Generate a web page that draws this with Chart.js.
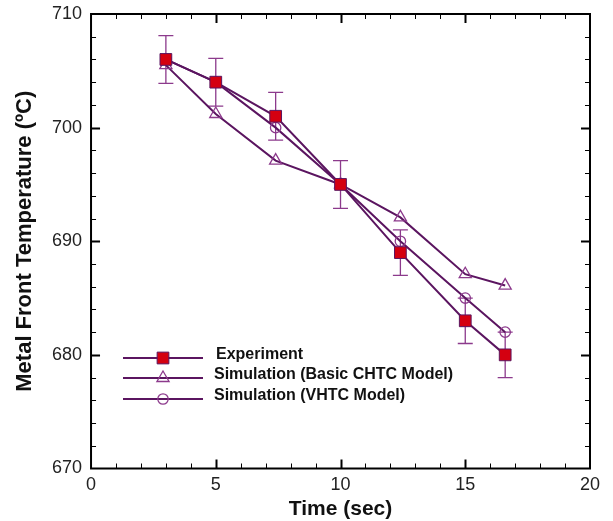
<!DOCTYPE html>
<html>
<head>
<meta charset="utf-8">
<script src="https://cdn.jsdelivr.net/npm/chart.js@4/dist/chart.umd.min.js"></script>
<style>
  html, body { margin: 0; padding: 0; background: #fff; }
  #wrap { width: 613px; height: 521px; }
</style>
</head>
<body>
<div id="wrap"><canvas id="chart" width="613" height="521"></canvas></div>
<script>
// data
const times = [3, 5, 7.4, 10, 12.4, 15, 16.6];
const experiment = [706, 704, 701, 695, 689, 683, 680];
const experimentErr = [2.1, 2.1, 2.1, 2.1, 2, 2, 2];
const basicChtc = [705.5, 701.2, 697.1, 695, 692.1, 687.1, 686.1];
const vhtc = [706, 704, 700, 695, 690, 685, 682];

const xTicks = [0, 5, 10, 15, 20];
const yTicks = [670, 680, 690, 700, 710];

const lineColor = '#5b1560';
const barColor = '#8c3a8c';
const font = "'Liberation Sans', Arial, sans-serif";

function toPoints(ys) {
    return times.map((t, i) => ({x: t, y: ys[i]}));
}

// inward ticks on all four sides + frame
const frame = {
    id: 'frame',
    afterDraw(chart) {
        const {ctx, chartArea: a, scales: {x, y}} = chart;
        ctx.save();
        ctx.strokeStyle = '#000';
        for (let v = 1; v < 20; v++) {
            const px = Math.round(x.getPixelForValue(v)) + 0.5;
            const len = v % 5 === 0 ? 9 : 5;
            ctx.lineWidth = v % 5 === 0 ? 2 : 1;
            ctx.beginPath();
            ctx.moveTo(px, a.bottom); ctx.lineTo(px, a.bottom - len);
            ctx.moveTo(px, a.top); ctx.lineTo(px, a.top + len);
            ctx.stroke();
        }
        for (let v = 672; v < 710; v += 2) {
            const py = Math.round(y.getPixelForValue(v)) + 0.5;
            const len = v % 10 === 0 ? 9 : 5;
            ctx.lineWidth = v % 10 === 0 ? 2 : 1;
            ctx.beginPath();
            ctx.moveTo(a.left, py); ctx.lineTo(a.left + len, py);
            ctx.moveTo(a.right, py); ctx.lineTo(a.right - len, py);
            ctx.stroke();
        }
        ctx.lineWidth = 2;
        ctx.strokeRect(a.left, a.top, a.right - a.left, a.bottom - a.top);
        ctx.restore();
    }
};

// error bars for experiment, under the markers
const errorBars = {
    id: 'errorBars',
    beforeDatasetsDraw(chart) {
        const {ctx, scales: {x, y}} = chart;
        ctx.save();
        ctx.strokeStyle = barColor;
        ctx.lineWidth = 1.3;
        times.forEach((t, i) => {
            const px = x.getPixelForValue(t);
            const top = y.getPixelForValue(experiment[i] + experimentErr[i]);
            const bot = y.getPixelForValue(experiment[i] - experimentErr[i]);
            ctx.beginPath();
            ctx.moveTo(px, top); ctx.lineTo(px, bot);
            ctx.moveTo(px - 7.5, top); ctx.lineTo(px + 7.5, top);
            ctx.moveTo(px - 7.5, bot); ctx.lineTo(px + 7.5, bot);
            ctx.stroke();
        });
        ctx.restore();
    }
};

// legend inside the plot
const innerLegend = {
    id: 'innerLegend',
    afterDraw(chart) {
        const {ctx} = chart;
        const rows = [358, 378, 399];
        ctx.save();
        chart.data.datasets.forEach((ds, i) => {
            const yy = rows[i];
            ctx.strokeStyle = lineColor;
            ctx.lineWidth = 2;
            ctx.beginPath();
            ctx.moveTo(123, yy); ctx.lineTo(203, yy);
            ctx.stroke();
            ctx.fillStyle = ds.pointBackgroundColor;
            ctx.strokeStyle = ds.pointBorderColor;
            ctx.lineWidth = ds.pointBorderWidth;
            Chart.helpers.drawPoint(ctx, {pointStyle: ds.pointStyle, radius: ds.pointRadius, rotation: 0, borderWidth: ds.pointBorderWidth}, 163, yy);
            ctx.fillStyle = '#111';
            ctx.font = 'bold 16px ' + font;
            ctx.textBaseline = 'middle';
            ctx.fillText(ds.label, i === 0 ? 216 : 214, yy - 3);
        });
        ctx.restore();
    }
};

new Chart(document.getElementById('chart').getContext('2d'), {
    type: 'scatter',
    data: {
        datasets: [{
            label: 'Experiment',
            data: toPoints(experiment),
            showLine: true,
            borderColor: lineColor,
            borderWidth: 2,
            pointStyle: 'rect',
            pointRadius: 8.3,
            pointBackgroundColor: '#d40010',
            pointBorderColor: lineColor,
            pointBorderWidth: 1
        }, {
            label: 'Simulation (Basic CHTC Model)',
            data: toPoints(basicChtc),
            showLine: true,
            borderColor: lineColor,
            borderWidth: 2,
            pointStyle: 'triangle',
            pointRadius: 7,
            pointBackgroundColor: 'rgba(0,0,0,0)',
            pointBorderColor: barColor,
            pointBorderWidth: 1.3
        }, {
            label: 'Simulation (VHTC Model)',
            data: toPoints(vhtc),
            showLine: true,
            borderColor: lineColor,
            borderWidth: 2,
            pointStyle: 'circle',
            pointRadius: 5.2,
            pointBackgroundColor: 'rgba(0,0,0,0)',
            pointBorderColor: barColor,
            pointBorderWidth: 1.3
        }]
    },
    options: {
        responsive: false,
        animation: false,
        layout: {padding: {top: 14, right: 23, left: 14, bottom: 1.5}},
        plugins: {legend: {display: false}, tooltip: {enabled: false}},
        scales: {
            x: {
                type: 'linear',
                min: 0, max: 20,
                afterBuildTicks: s => { s.ticks = xTicks.map(v => ({value: v})); },
                grid: {display: false, drawTicks: false, tickLength: 0},
                border: {display: false},
                ticks: {color: '#222', font: {family: font, size: 18, lineHeight: 1}, padding: 8, maxRotation: 0},
                title: {display: true, text: 'Time (sec)', color: '#111', font: {family: font, size: 21, weight: 'bold', lineHeight: 1}, padding: {top: -4, bottom: 0}}
            },
            y: {
                min: 670, max: 710,
                afterBuildTicks: s => { s.ticks = yTicks.map(v => ({value: v})); },
                grid: {display: false, drawTicks: false, tickLength: 0},
                border: {display: false},
                ticks: {color: '#222', font: {family: font, size: 18, lineHeight: 0.5}, padding: 9},
                title: {display: true, text: 'Metal Front Temperature (ºC)', color: '#111', font: {family: font, size: 22, weight: 'bold', lineHeight: 1}, padding: {top: 0, bottom: 7}}
            }
        }
    },
    plugins: [errorBars, frame, innerLegend]
});
</script>
</body>
</html>
